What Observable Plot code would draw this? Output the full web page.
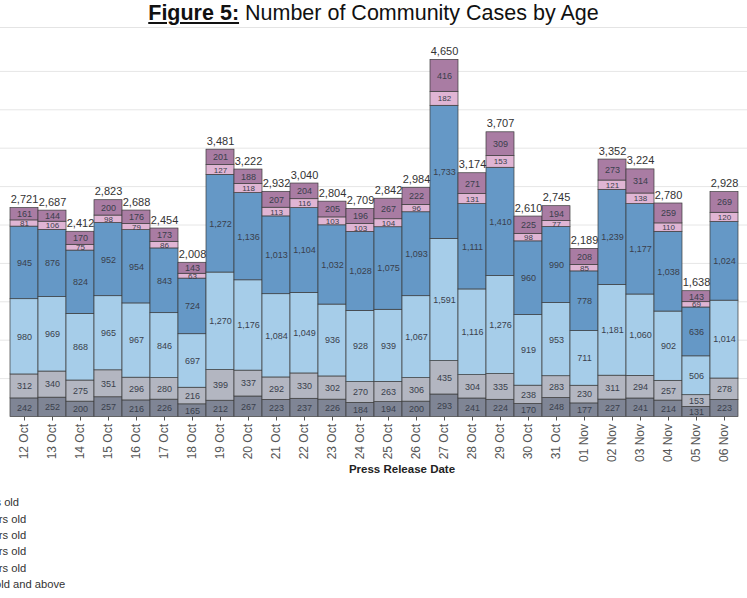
<!DOCTYPE html>
<html>
<head>
<meta charset="utf-8">
<script src="https://cdn.jsdelivr.net/npm/d3@7"></script>
<script src="https://cdn.jsdelivr.net/npm/@observablehq/plot@0.6"></script>
<style>
  html, body { margin: 0; padding: 0; background: #fff; overflow: hidden; }
  #page { position: relative; width: 747px; height: 598px; overflow: hidden; font-family: "Liberation Sans", Arial, sans-serif; }
  #title { height: 27px; line-height: 27px; border-bottom: 1px solid #e4e4e4; text-align: center; font-size: 21.5px; color: #111; white-space: nowrap; }
  #title .fig { font-weight: bold; text-decoration: underline; }
  #chart svg { display: block; }
  .leg { position: absolute; left: -51px; font-size: 11.2px; line-height: 14px; color: #333; white-space: nowrap; }
  .leg i { display: inline-block; width: 10px; height: 10px; margin-left: -16px; margin-right: 6px; vertical-align: -1px; }
</style>
</head>
<body>
<div id="page">
  <div id="title"><span class="fig">Figure 5:</span> Number of Community Cases by Age</div>
  <div id="chart"></div>
  <div id="legend"></div>
</div>
<script>
const dates = ["12 Oct","13 Oct","14 Oct","15 Oct","16 Oct","17 Oct","18 Oct","19 Oct","20 Oct","21 Oct","22 Oct","23 Oct","24 Oct","25 Oct","26 Oct","27 Oct","28 Oct","29 Oct","30 Oct","31 Oct","01 Nov","02 Nov","03 Nov","04 Nov","05 Nov","06 Nov"];
const groups = ["0-11 years old","12-19 years old","20-39 years old","40-59 years old","60-69 years old","70 years old and above"];
const colors = ["#7f8595","#b3b6c1","#a6cde9","#6598c6","#e0b5d4","#a97ca3"];

const age1 = [242,252,200,257,216,226,165,212,267,223,237,226,184,194,200,293,241,224,170,248,177,227,241,214,131,223];
const age2 = [312,340,275,351,296,280,216,399,337,292,330,302,270,263,306,435,304,335,238,283,230,311,294,257,153,278];
const age3 = [980,969,868,965,967,846,697,1270,1176,1084,1049,936,928,939,1067,1591,1116,1276,919,953,711,1181,1060,902,506,1014];
const age4 = [945,876,824,952,954,843,724,1272,1136,1013,1104,1032,1028,1075,1093,1733,1111,1410,960,990,778,1239,1177,1038,636,1024];
const age5 = [81,106,75,98,79,86,63,127,118,113,116,103,103,104,96,182,131,153,98,77,85,121,138,110,69,120];
const age6 = [161,144,170,200,176,173,143,201,188,207,204,205,196,267,222,416,271,309,225,194,208,273,314,259,143,269];
const totals = [2721,2687,2412,2823,2688,2454,2008,3481,3222,2932,3040,2804,2709,2842,2984,4650,3174,3707,2610,2745,2189,3352,3224,2780,1638,2928];
const gridValues = [500,1000,1500,2000,2500,3000,3500,4000,4500];

const series = [age1, age2, age3, age4, age5, age6];
const rows = [];
dates.forEach((d, i) => series.forEach((s, k) => rows.push({date: d, group: groups[k], k, value: s[i]})));
const totalRows = dates.map((d, i) => ({date: d, total: totals[i]}));
const fmt = d3.format(",");

const chart = Plot.plot({
  width: 747,
  height: 455,
  marginTop: 4.5,
  marginBottom: 66.5,
  marginLeft: 0,
  marginRight: 0,
  style: {fontFamily: "'Liberation Sans', Arial, sans-serif", background: "white", overflow: "visible"},
  x: {domain: dates, range: [0.6, 746.8], padding: 0, label: null},
  y: {domain: [0, 5000], axis: null},
  color: {domain: groups, range: colors},
  marks: [
    Plot.ruleY(gridValues, {stroke: "#e6e6e6", strokeWidth: 1}),
    Plot.barY(rows, {x: "date", y: "value", fill: "group", z: "group", stroke: "#3b3b3b", strokeWidth: 0.7}),
    Plot.text(rows, Plot.stackY({
      x: "date", y: "value", z: "group",
      text: d => fmt(d.value),
      fontSize: d => d.k === 4 ? 8 : 9,
      fill: "#3a3f4c"
    })),
    Plot.text(totalRows, {x: "date", y: "total", text: d => fmt(d.total), dy: -8.5, fontSize: 11, fill: "#333"}),
    Plot.axisX({tickRotate: -90, tickSize: 4, tickPadding: 3, fontSize: 12, color: "#555", label: null}),
    Plot.text(["Press Release Date"], {frameAnchor: "bottom", dx: 28, dy: 56, fontWeight: "bold", fontSize: 11.5, fill: "#222"})
  ]
});
document.getElementById("chart").appendChild(chart);

const legend = document.getElementById("legend");
const legendTops = [495, 512, 528, 544, 561, 577];
groups.forEach((g, k) => {
  const div = document.createElement("div");
  div.className = "leg";
  div.style.top = legendTops[k] + "px";
  const sw = document.createElement("i");
  sw.style.background = colors[k];
  div.appendChild(sw);
  div.appendChild(document.createTextNode(g));
  legend.appendChild(div);
});
</script>
</body>
</html>
